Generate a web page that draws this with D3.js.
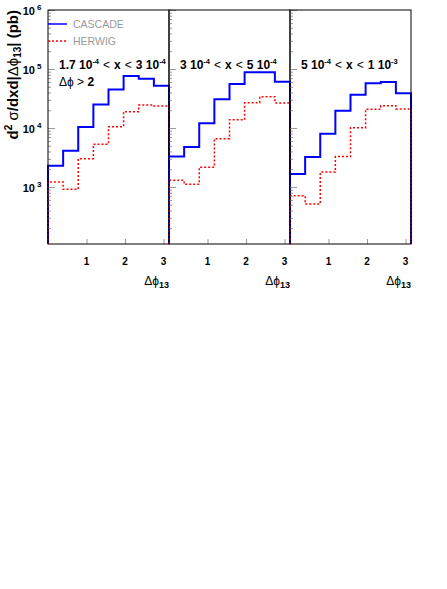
<!DOCTYPE html>
<html>
<head>
<meta charset="utf-8">
<script src="https://cdn.jsdelivr.net/npm/d3@7/dist/d3.min.js"></script>
<style>
  body { margin: 0; background: #fff; }
  text { font-family: "Liberation Sans", Arial, sans-serif; }
</style>
</head>
<body>
<svg id="chart" width="447" height="589"></svg>
<script>
// histogram bin edges in delta phi_13 (8 bins from 0 to pi)
const binEdges = [0, 0.393, 0.785, 1.178, 1.571, 1.963, 2.356, 2.749, 3.142];

// cross sections (pb) read per bin
const cascadeLowX = [2300, 4100, 10400, 25000, 45000, 76000, 68500, 52000];
const herwigLowX = [1220, 915, 3020, 5300, 10500, 18900, 24500, 23600];
const cascadeMidX = [3270, 4760, 12000, 30600, 55700, 88000, 88000, 61000];
const herwigMidX = [1300, 1110, 2160, 6600, 13800, 26800, 34000, 26600];
const cascadeHighX = [1660, 3220, 8000, 19600, 36700, 57300, 60300, 38700];
const herwigHighX = [713, 515, 1790, 3270, 10100, 20800, 23900, 21000];

const xTicks = [1, 2, 3];
const yTicks = [1e3, 1e4, 1e5, 1e6];
const seriesNames = ["CASCADE", "HERWIG"];

// x-range label of each panel: [text, superscript] pairs
const panelLabels = [
    [["1.7 10", "-4"], ["<", null], ["x", null], ["<", null], ["3 10", "-4"]],
    [["3 10", "-4"], ["<", null], ["x", null], ["<", null], ["5 10", "-4"]],
    [["5 10", "-4"], ["<", null], ["x", null], ["<", null], ["1 10", "-3"]],
];

const panels = [
    { cascade: cascadeLowX, herwig: herwigLowX, label: panelLabels[0] },
    { cascade: cascadeMidX, herwig: herwigMidX, label: panelLabels[1] },
    { cascade: cascadeHighX, herwig: herwigHighX, label: panelLabels[2] },
];

const svg = d3.select("#chart"),
    frameTop = 10,
    frameBottom = 244,
    frameLeft = 48,
    panelWidth = 121,
    phi = "\u03d5";

const y = d3.scaleLog().domain([108, 1e6]).range([frameBottom, frameTop]);

function histPoints(values) {
    const pts = [[binEdges[0], y.domain()[0]]];
    values.forEach(function (v, i) {
        pts.push([binEdges[i], v], [binEdges[i + 1], v]);
    });
    pts.push([binEdges[binEdges.length - 1], y.domain()[0]]);
    return pts;
}

panels.forEach(function (panel, p) {
    const x0 = frameLeft + p * panelWidth;
    const x = d3.scaleLinear().domain([0, Math.PI]).range([x0, x0 + panelWidth]);
    const g = svg.append("g");

    const line = d3.line().x(d => x(d[0])).y(d => y(d[1]));

    g.append("path")
        .attr("d", line(histPoints(panel.cascade)))
        .attr("fill", "none")
        .attr("stroke", "#0000ff")
        .attr("stroke-width", 2);

    g.append("path")
        .attr("d", line(histPoints(panel.herwig)))
        .attr("fill", "none")
        .attr("stroke", "#ff0000")
        .attr("stroke-width", 1.5)
        .attr("stroke-dasharray", "2,2");

    // y ticks on the left edge of each panel, pointing inwards
    const yAxis = d3.axisRight(y)
        .tickValues(d3.range(2, 7).flatMap(e => d3.range(1, 10).map(m => m * Math.pow(10, e)))
            .filter(v => v >= y.domain()[0] && v <= 1e6))
        .tickSize(3)
        .tickFormat("");
    const ya = g.append("g").attr("transform", `translate(${x0},0)`).call(yAxis);
    ya.select(".domain").remove();
    ya.selectAll(".tick line")
        .attr("stroke", "#999")
        .attr("x2", d => yTicks.includes(d) ? 7 : 3);

    // x ticks
    const xAxis = d3.axisTop(x).tickValues(xTicks).tickSize(5).tickFormat("");
    const xa = g.append("g").attr("transform", `translate(0,${frameBottom})`).call(xAxis);
    xa.select(".domain").remove();
    xa.selectAll(".tick line").attr("stroke", "#999");

    g.selectAll(".xlab")
        .data(xTicks)
        .enter().append("text")
        .attr("x", d => x(d))
        .attr("y", 265)
        .attr("text-anchor", "middle")
        .attr("font-size", 10)
        .attr("font-weight", "bold")
        .text(d => d);

    const xt = g.append("text")
        .attr("x", x0 + panelWidth)
        .attr("y", 285)
        .attr("text-anchor", "end")
        .attr("font-size", 12);
    xt.append("tspan").text("\u0394" + phi);
    xt.append("tspan").attr("dy", 3).attr("font-size", 9).attr("font-weight", "bold").text("13");

    // frame
    g.append("rect")
        .attr("x", x0)
        .attr("y", frameTop)
        .attr("width", panelWidth)
        .attr("height", frameBottom - frameTop)
        .attr("fill", "none")
        .attr("stroke", "#000")
        .attr("stroke-width", 1);

    // panel label
    const lt = g.append("text")
        .attr("x", x0 + 11)
        .attr("y", 69)
        .attr("font-size", 12)
        .attr("font-weight", "bold");
    let shift = 0;
    panel.label.forEach(function (part, i) {
        const t = lt.append("tspan")
            .attr("dx", i > 0 ? 4 : 0)
            .attr("dy", shift)
            .text(part[0]);
        shift = 0;
        if (part[0] === "<") t.attr("font-weight", "normal");
        if (part[1]) {
            lt.append("tspan").attr("dy", -5).attr("font-size", 7.5).text(part[1]);
            shift = 5;
        }
    });
});

// extra condition in the first panel
const dp = svg.append("text")
    .attr("x", frameLeft + 11)
    .attr("y", 86)
    .attr("font-size", 12);
dp.append("tspan").text("\u0394" + phi + " > ");
dp.append("tspan").attr("font-weight", "bold").text("2");

// legend
const legendY = [24, 41];
const legend = svg.append("g");
legend.selectAll("line")
    .data(seriesNames)
    .enter().append("line")
    .attr("x1", frameLeft)
    .attr("x2", frameLeft + 19)
    .attr("y1", (d, i) => legendY[i])
    .attr("y2", (d, i) => legendY[i])
    .attr("stroke", (d, i) => i === 0 ? "#0000ff" : "#ff0000")
    .attr("stroke-width", 1.5)
    .attr("stroke-dasharray", (d, i) => i === 0 ? null : "2,2");
legend.selectAll("text")
    .data(seriesNames)
    .enter().append("text")
    .attr("x", frameLeft + 25)
    .attr("y", (d, i) => legendY[i] + 4)
    .attr("font-size", 10.5)
    .attr("fill", "#999")
    .text(d => d);

// y tick labels
yTicks.forEach(function (v) {
    svg.append("text")
        .attr("x", 35)
        .attr("y", y(v) + 5)
        .attr("text-anchor", "end")
        .attr("font-size", 11)
        .attr("font-weight", "bold")
        .text("10");
    svg.append("text")
        .attr("x", 37)
        .attr("y", y(v))
        .attr("font-size", 8)
        .attr("font-weight", "bold")
        .text(Math.round(Math.log10(v)));
});

// y axis title
const yt = svg.append("text")
    .attr("transform", "translate(18,10) rotate(-90)")
    .attr("text-anchor", "end")
    .attr("font-size", 15)
    .attr("font-weight", "bold");
yt.append("tspan").text("d");
yt.append("tspan").attr("dy", -6).attr("font-size", 10).text("2");
yt.append("tspan").attr("dy", 6).attr("font-weight", "normal").text(" \u03c3");
yt.append("tspan").text("/dxd|");
yt.append("tspan").attr("font-weight", "normal").text("\u0394" + phi);
yt.append("tspan").attr("dy", 3).attr("font-size", 10).text("13");
yt.append("tspan").attr("dy", -3).text("| (pb)");
</script>
</body>
</html>
